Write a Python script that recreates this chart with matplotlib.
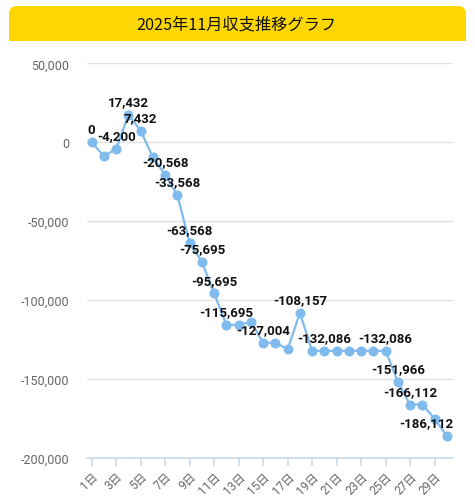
import matplotlib
matplotlib.use("Agg")
import matplotlib.pyplot as plt
from matplotlib.patches import FancyBboxPatch, Rectangle
from matplotlib.ticker import FuncFormatter, FixedLocator

title = "2025年11月収支推移グラフ"
days = list(range(1, 31))
values = [0, -8800, -4200, 17432, 7432, -9568, -20568, -33568, -63568, -75695,
          -95695, -115695, -115695, -113695, -127004, -127004, -131004, -108157, -132086, -132086,
          -132086, -132086, -132086, -132086, -132086, -151966, -166112, -166112, -175112, -186112]
labeled_days = [1, 3, 4, 5, 7, 8, 9, 10, 11, 12, 15, 18, 20, 25, 26, 27, 30]
tick_days = list(range(1, 31, 2))
tick_labels = [f"{d}日" for d in tick_days]
y_ticks = [50000, 0, -50000, -100000, -150000, -200000]

W, H = 475, 502
fig = plt.figure(figsize=(W / 100, H / 100), dpi=100)
fig.patch.set_facecolor("white")

def fx(px):
    return px / W

def fy(py):
    return 1 - py / H

# title banner
bx0, bx1, by0, by1 = 9, 466, 7, 41.5
r = 8
banner = FancyBboxPatch((fx(bx0), fy(by1)), fx(bx1 - bx0), (by1 - by0) / H,
                        boxstyle=f"round,pad=0,rounding_size={r / W}",
                        transform=fig.transFigure, facecolor="#FFD700",
                        edgecolor="none", mutation_aspect=W / H)
fig.patches.append(banner)
fig.patches.append(Rectangle((fx(bx0), fy(by1)), fx(bx1 - bx0), r / H,
                             transform=fig.transFigure, facecolor="#FFD700", edgecolor="none"))
fig.text(fx(236.5), fy(25), title, ha="center", va="center", fontsize=11.7,
         family=["Noto Sans CJK JP", "DejaVu Sans"], color="#111111")

ax = fig.add_axes([87 / W, 1 - 459 / H, 366 / W, (459 - 64.4) / H])
ax.set_xlim(0.62, 30.5)
ax.set_ylim(-200000, 50000)

ax.plot(days, values, color="#80bbee", lw=1.6, marker="o", ms=6.2,
        markerfacecolor="#80bbee", markeredgecolor="#80bbee", zorder=3, clip_on=False)

for d in labeled_days:
    v = values[d - 1]
    ha = "center"
    dx = 0
    if d == days[-1]:
        ha = "right"
        dx = 4.6
    ax.annotate(f"{v:,}", (d, v), xytext=(dx, 9.5), textcoords="offset points",
                ha=ha, va="center", fontsize=9.5, fontweight="bold",
                family=["Roboto", "DejaVu Sans"], color="#111111", zorder=4,
                annotation_clip=False)

ax.yaxis.set_major_locator(FixedLocator(y_ticks))
ax.yaxis.set_major_formatter(FuncFormatter(lambda v, p: f"{int(v):,}"))
ax.grid(axis="y", color="#e2e2e2", lw=1)
ax.set_axisbelow(True)
for s in ["left", "right", "top"]:
    ax.spines[s].set_visible(False)
ax.spines["bottom"].set_color("#c6d9ea")
ax.spines["bottom"].set_linewidth(1.2)
ax.tick_params(axis="y", length=0, pad=13, labelsize=9, labelcolor="#666666")
for lab in ax.get_yticklabels():
    lab.set_family(["Roboto", "DejaVu Sans"])

ax.set_xticks(tick_days)
ax.set_xticklabels(tick_labels, rotation=45, ha="right", rotation_mode="anchor",
                   family=["Roboto", "Noto Sans CJK JP"], fontsize=8.5, color="#666666")
ax.tick_params(axis="x", length=6, width=1.2, color="#c6d9ea", pad=2)

fig.savefig("out.png", dpi=100, facecolor="white")
